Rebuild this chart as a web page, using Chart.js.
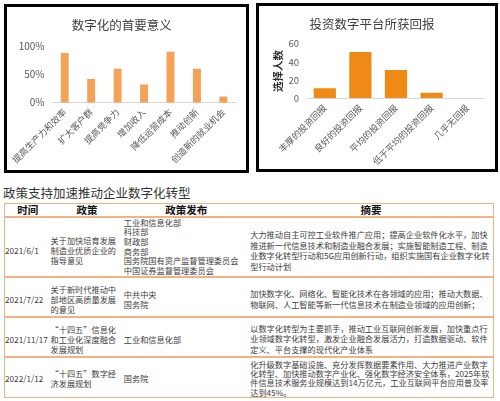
<!DOCTYPE html>
<html>
<head>
<meta charset="utf-8">
<script src="https://cdn.jsdelivr.net/npm/chart.js@4.4.1/dist/chart.umd.min.js"></script>
<style>
  html, body { margin: 0; padding: 0; background: #fff; }
  body { width: 500px; height: 401px; overflow: hidden; position: relative;
         font-family: "Noto Sans CJK SC", "Noto Sans", sans-serif; }
  .frame { position: absolute; background: #000; }
  .inner { position: absolute; left: 3px; top: 3px; right: 3px; bottom: 3px; background: #fff; overflow: hidden; }
  .inner canvas { display: block; }
  #pageTitle { position: absolute; left: 3px; top: 185px; font-size: 12.5px; line-height: 16px;
               color: #333; white-space: nowrap; }
  #policyTable { position: absolute; left: 4px; top: 203px; width: 490px; height: 194.5px;
                 border: 1.5px solid #F4B183; box-sizing: border-box; }
  .row { display: flex; box-sizing: border-box; border-bottom: 2px solid #F4B183; }
  .row:last-child { border-bottom: none; }
  .cell { display: flex; flex-direction: column; justify-content: center; box-sizing: border-box;
          font-size: 8.2px; line-height: 10px; color: #404040; white-space: nowrap; overflow: visible; }
  .head .cell { align-items: center; font-size: 10.5px; line-height: 11px; font-weight: bold; color: #111; padding-top: 0; }
  .c1 { width: 45.5px; }
  .c2 { width: 73px; }
  .c3 { width: 125px; padding-left: 0.3px; }
  .c4 { width: 243.5px; padding-left: 1.7px; line-height: 10.4px; }
</style>
</head>
<body>
<div class="frame" style="left:4px;top:4px;width:245px;height:169px;">
  <div class="inner"><canvas id="meaningChart" width="239" height="163"></canvas></div>
</div>
<div class="frame" style="left:256px;top:3px;width:242px;height:169px;">
  <div class="inner"><canvas id="returnChart" width="236" height="163"></canvas></div>
</div>
<div id="pageTitle">政策支持加速推动企业数字化转型</div>
<div id="policyTable"></div>

<script>
// chart 1: 数字化的首要意义
const meaningLabels = ["提高生产力和效率", "扩大客户群", "提高竞争力", "增加收入", "降低运营成本", "推动创新", "创造新的就业机会"];
const meaningValues = [88, 42, 60, 32, 90, 60, 11];

// chart 2: 投资数字平台所获回报
const returnLabels = ["丰厚的投资回报", "良好的投资回报", "平均的投资回报", "低于平均的投资回报", "几乎无回报"];
const returnValues = [11, 51, 31, 6, 0];

// table
const tableHeaders = ["时间", "政策", "政策发布", "摘要"];
const policyDates = ["2021/6/1", "2021/7/22", "2021/11/17", "2022/1/12"];
const policyNames = [
  ["关于加快培育发展", "制造业优质企业的", "指导意见"],
  ["关于新时代推动中", "部地区高质量发展", "的意见"],
  ["“十四五”信息化", "和工业化深度融合", "发展规划"],
  ["“十四五”数字经", "济发展规划"]
];
const policyIssuers = [
  ["工业和信息化部", "科技部", "财政部", "商务部", "国务院国有资产监督管理委员会", "中国证券监督管理委员会"],
  ["中共中央", "国务院"],
  ["工业和信息化部"],
  ["国务院"]
];
const policySummaries = [
  ["大力推动自主可控工业软件推广应用；提高企业软件化水平，加快",
   "推进新一代信息技术和制造业融合发展；实施智能制造工程、制造",
   "业数字化转型行动和5G应用创新行动，组织实施国有企业数字化转",
   "型行动计划"],
  ["加快数字化、网络化、智能化技术在各领域的应用；推动大数据、",
   "物联网、人工智能等新一代信息技术在制造业领域的应用创新；"],
  ["以数字化转型为主要抓手，推动工业互联网创新发展，加快重点行",
   "业领域数字化转型，激发企业融合发展活力，打造数据驱动、软件",
   "定义、平台支撑的现代化产业体系"],
  ["化升级数字基础设施、充分发挥数据要素作用、大力推进产业数字",
   "化转型、加快推动数字产业化、强化数字经济安全体系，2025年软",
   "件信息技术服务业规模达到14万亿元，工业互联网平台应用普及率",
   "达到45%。"]
];

const rowHeights = [13.5, 60.5, 40, 40, 37.5];

Chart.defaults.font.family = '"Noto Sans CJK SC", "Noto Sans", sans-serif';
Chart.defaults.color = "#595959";

function baseOptions(titleText, titlePad, padRight, xHeight, yWidth) {
  return {
    responsive: false,
    animation: false,
    layout: { padding: { left: 0, right: padRight, top: 0, bottom: 0 } },
    plugins: {
      legend: { display: false },
      tooltip: { enabled: false },
      title: {
        display: true,
        text: titleText,
        color: "#404040",
        font: { size: 12.5, weight: "normal" },
        padding: titlePad
      }
    },
    scales: {
      x: {
        grid: { display: false, drawTicks: false },
        border: { display: true, color: "#D9D9D9", width: 1 },
        ticks: { minRotation: 45, maxRotation: 45, autoSkip: false, font: { size: 9 }, color: "#595959", padding: 4 },
        afterFit: (s) => { s.height = xHeight; }
      },
      y: {
        min: 0,
        grid: { display: false, drawTicks: false },
        border: { display: false },
        afterFit: (s) => { s.width = yWidth; }
      }
    }
  };
}

const opt1 = baseOptions("数字化的首要意义", { top: 11, bottom: 13.1 }, 9.4, 67.3, 39.4);
opt1.scales.y.max = 100;
opt1.scales.y.ticks = { stepSize: 25, callback: (v) => v + "%", font: { size: 10 }, color: "#595959", padding: 7 };

new Chart(document.getElementById("meaningChart"), {
  type: "bar",
  data: {
    labels: meaningLabels,
    datasets: [{ data: meaningValues, backgroundColor: "#F3A257", categoryPercentage: 0.6, barPercentage: 0.5 }]
  },
  options: opt1
});

const opt2 = baseOptions("投资数字平台所获回报", { top: 10.4, bottom: 12.3 }, 10, 70.7, 48);
opt2.scales.y.max = 60;
opt2.scales.y.ticks = { stepSize: 10, font: { size: 9.5 }, color: "#595959", padding: 8 };
opt2.scales.y.title = {
  display: true,
  text: "选择人数",
  color: "#303030",
  font: { size: 10.5, weight: "bold" },
  padding: { top: 12.7, bottom: 0 }
};

new Chart(document.getElementById("returnChart"), {
  type: "bar",
  data: {
    labels: returnLabels,
    datasets: [{ data: returnValues, backgroundColor: "#EF8A17", categoryPercentage: 0.8, barPercentage: 0.78 }]
  },
  options: opt2
});

// build the policy table
const tableEl = document.getElementById("policyTable");
let html = `<div class="row head" style="height:${rowHeights[0]}px">` +
  tableHeaders.map((h, i) => `<div class="cell c${i + 1}">${h}</div>`).join("") + "</div>";
policyDates.forEach((d, r) => {
  const shift = r === 0 ? 7 : 3;
  const sumLH = r === 0 ? 10.7 : (r === 3 ? 9.3 : 10.3);
  html += `<div class="row" style="height:${rowHeights[r + 1]}px">` +
    `<div class="cell c1" style="padding-top:${shift}px">${d}</div>` +
    `<div class="cell c2" style="padding-top:${shift}px">${policyNames[r].join("<br>")}</div>` +
    `<div class="cell c3" style="line-height:${r === 0 ? 9.7 : 10}px;padding-top:${r === 0 ? 0 : 3}px">${policyIssuers[r].join("<br>")}</div>` +
    `<div class="cell c4" style="line-height:${sumLH}px;padding-top:${shift}px">${policySummaries[r].join("<br>")}</div>` +
    "</div>";
});
tableEl.innerHTML = html;
</script>
</body>
</html>
